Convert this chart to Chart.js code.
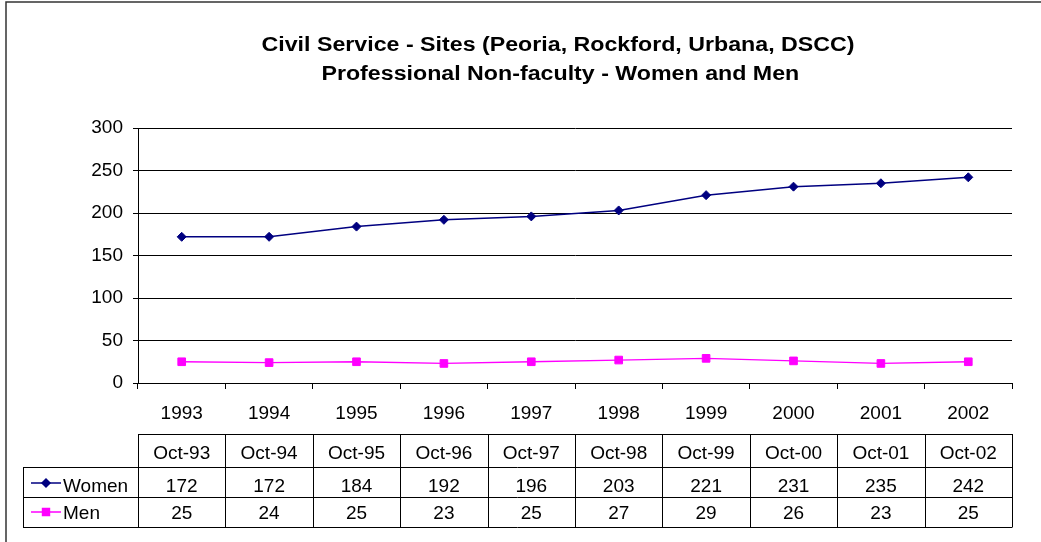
<!DOCTYPE html>
<html>
<head>
<meta charset="utf-8">
<script src="https://cdn.jsdelivr.net/npm/chart.js@4/dist/chart.umd.min.js"></script>
<style>
  html, body { margin: 0; padding: 0; background: #fff; }
  #wrap { position: relative; width: 1041px; height: 542px; }
</style>
</head>
<body>
<div id="wrap"><canvas id="civilChart"></canvas></div>
<script>
// chart values
const years = ['1993', '1994', '1995', '1996', '1997', '1998', '1999', '2000', '2001', '2002'];
const months = ['Oct-93', 'Oct-94', 'Oct-95', 'Oct-96', 'Oct-97', 'Oct-98', 'Oct-99', 'Oct-00', 'Oct-01', 'Oct-02'];
const women = [172, 172, 184, 192, 196, 203, 221, 231, 235, 242];
const men = [25, 24, 25, 23, 25, 27, 29, 26, 23, 25];
const titleLines = ['Civil Service - Sites (Peoria, Rockford, Urbana, DSCC)', 'Professional Non-faculty - Women and Men'];

const FONT = "Arial, 'Liberation Sans', sans-serif";
var ctx = document.getElementById('civilChart');

const seriesList = [
    { label: 'Women', data: women, color: '#000080', style: 'rectRot', radius: 4.5 },
    { label: 'Men', data: men, color: '#FF00FF', style: 'rect', radius: 5.4 }
];

// title + outer frame
const framePlugin = {
    id: 'frame',
    afterDraw(chart) {
        const c = chart.ctx;
        c.save();
        c.strokeStyle = '#333';
        c.lineWidth = 1.5;
        c.beginPath();
        c.moveTo(6, 542);
        c.lineTo(6, 2);
        c.lineTo(1041, 2);
        c.stroke();

        // the title in the original is a little wider than plain Arial bold
        c.fillStyle = '#000';
        c.font = 'bold 20px ' + FONT;
        c.textAlign = 'center';
        c.textBaseline = 'alphabetic';
        c.translate(558, 0);
        c.scale(1.16, 1);
        c.fillText(titleLines[0], 0, 51);
        c.fillText(titleLines[1], 2, 80);
        c.restore();
    }
};

// data table under the x axis
const tablePlugin = {
    id: 'dataTable',
    afterDraw(chart) {
        const c = chart.ctx;
        const x = chart.scales.x;
        const n = years.length;
        const band = (x.right - x.left) / n;
        const rows = [434, 467, 497, 527];
        const legLeft = 23;

        c.save();
        c.strokeStyle = '#000';
        c.lineWidth = 1;
        c.beginPath();
        // horizontal lines
        c.moveTo(x.left, rows[0] + 0.5); c.lineTo(x.right, rows[0] + 0.5);
        for (let r = 1; r < rows.length; r++) {
            c.moveTo(legLeft, rows[r] + 0.5); c.lineTo(x.right, rows[r] + 0.5);
        }
        // vertical lines
        for (let i = 0; i <= n; i++) {
            const px = Math.round(x.left + i * band) + 0.5;
            c.moveTo(px, rows[0]); c.lineTo(px, rows[3] + 0.5);
        }
        c.moveTo(legLeft + 0.5, rows[1]); c.lineTo(legLeft + 0.5, rows[3] + 0.5);
        c.stroke();

        c.fillStyle = '#000';
        c.font = '19px ' + FONT;
        c.textAlign = 'center';
        c.textBaseline = 'alphabetic';
        const baselines = [459, 492, 519];
        for (let i = 0; i < n; i++) {
            const cx = x.getPixelForValue(i);
            c.fillText(months[i], cx, baselines[0]);
            c.fillText(String(women[i]), cx, baselines[1]);
            c.fillText(String(men[i]), cx, baselines[2]);
        }

        // legend keys
        const keyY = [483, 512];
        seriesList.forEach(function (s, k) {
            c.strokeStyle = s.color;
            c.fillStyle = s.color;
            c.lineWidth = 1.5;
            c.beginPath();
            c.moveTo(31, keyY[k]); c.lineTo(61, keyY[k]);
            c.stroke();
            Chart.helpers.drawPoint(c, { pointStyle: s.style, radius: s.radius - 0.5, borderWidth: 1 }, 46, keyY[k]);
            c.fill();
            c.fillStyle = '#000';
            c.textAlign = 'left';
            c.fillText(s.label, 63, baselines[k + 1]);
        });
        c.restore();
    }
};

const datasets = seriesList.map(function (s) {
    return {
        label: s.label,
        data: s.data,
        borderColor: s.color,
        backgroundColor: s.color,
        borderWidth: s.label === 'Women' ? 1.5 : 1.3,
        pointStyle: s.style,
        pointRadius: s.radius,
        pointBorderWidth: 1,
        tension: 0
    };
});

new Chart(ctx, {
    type: 'line',
    data: { labels: years, datasets: datasets },
    plugins: [framePlugin, tablePlugin],
    options: {
        responsive: true,
        maintainAspectRatio: false,
        animation: false,
        layout: { padding: { top: 128, right: 29, left: 0, bottom: 0 } },
        plugins: {
            legend: { display: false },
            tooltip: { enabled: false },
            title: { display: false }
        },
        scales: {
            x: {
                offset: true,
                grid: { offset: true, drawOnChartArea: false, color: '#000', tickLength: 6 },
                border: { color: '#000' },
                ticks: { color: '#000', font: { family: FONT, size: 19 }, padding: 13, maxRotation: 0 },
                afterFit(scale) { scale.height = 159; }
            },
            y: {
                min: 0,
                max: 300,
                grid: { color: '#000', tickLength: 5 },
                border: { color: '#000' },
                ticks: { stepSize: 50, color: '#000', font: { family: FONT, size: 19 }, padding: 10 },
                afterFit(scale) { scale.width = 138; }
            }
        }
    }
});
</script>
</body>
</html>
